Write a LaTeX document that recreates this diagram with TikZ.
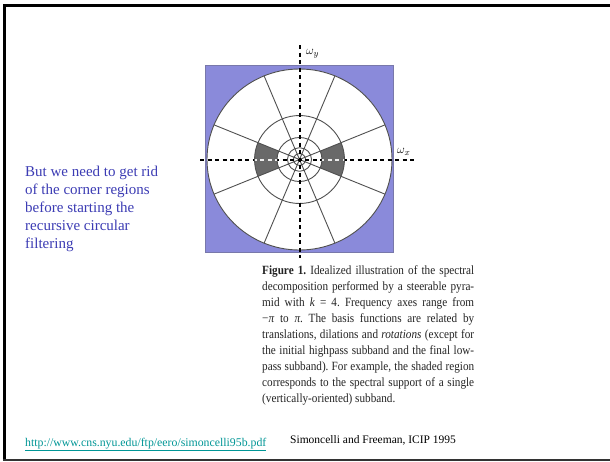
\documentclass[tikz,border=0pt]{standalone}
\usepackage{fontspec}
\setmainfont{Liberation Serif}
\usepackage{graphicx}
\definecolor{slideblue}{RGB}{60,60,180}
\definecolor{panelblue}{RGB}{138,138,218}
\definecolor{paneledge}{RGB}{120,120,170}
\definecolor{linkteal}{RGB}{0,150,150}
\definecolor{sectorgray}{RGB}{105,105,105}
\definecolor{ringgray}{RGB}{80,80,80}
\definecolor{captiontext}{RGB}{35,35,35}
% one justified caption line, slightly stretched vertically
\newcommand\capline[1]{\scalebox{1}[1.12]{\hbox to 212pt{#1}}}
\begin{document}
\frenchspacing
\begin{tikzpicture}[x=1pt,y=-1pt,
  frameline/.style={line width=3pt,black},
  ring/.style={draw=ringgray,line width=0.9pt},
  axis/.style={line width=2pt,dash pattern=on 4pt off 3.5pt},
  bluetext/.style={anchor=base west,inner sep=0pt,text=slideblue,font=\fontsize{15}{18}\selectfont},
  captionline/.style={anchor=base west,inner sep=0pt,text=captiontext,font=\fontsize{11.2}{13}\selectfont},
  axislabel/.style={inner sep=0pt,font=\fontsize{12.5}{14}\selectfont}]
\useasboundingbox (0,0) rectangle (610,461);
\fill[white] (0,0) rectangle (610,461);

% slide frame
\draw[frameline] (3,5.5) -- (610,5.5);
\draw[frameline] (4.5,4) -- (4.5,461);
\draw[line width=2pt,black!80] (3,460) -- (610,460);

% frequency plane
\fill[panelblue,draw=paneledge,line width=0.8pt] (205,65) rectangle (393,252);
\begin{scope}[shift={(299.5,159.5)},xscale=92.5,yscale=-90.5]
  \fill[white] (0,0) circle[radius=1];
  % shaded subband (vertically oriented)
  \fill[sectorgray] (-22.5:0.243) arc[start angle=-22.5,end angle=22.5,radius=0.243]
        -- (22.5:0.486) arc[start angle=22.5,end angle=-22.5,radius=0.486] -- cycle;
  \fill[sectorgray] (157.5:0.243) arc[start angle=157.5,end angle=202.5,radius=0.243]
        -- (202.5:0.486) arc[start angle=202.5,end angle=157.5,radius=0.486] -- cycle;
  % radial boundaries
  \foreach \a in {22.5,67.5,112.5,157.5}
    \draw[ring] (\a:1) -- (\a+180:1);
  % octave rings
  \foreach \r in {1,0.486,0.243,0.13,0.065}
    \draw[ring] (0,0) circle[radius=\r];
\end{scope}

% axes
\coordinate (wyTop) at (299.5,45);
\coordinate (wyBot) at (299.5,258);
\coordinate (wxLeft) at (200,159.5);
\coordinate (wxRight) at (414,159.5);
\draw[axis] (wyTop) -- (wyBot);
\draw[axis] (wxLeft) -- (wxRight);
% light dashes where the axis crosses the shaded subband
\begin{scope}[shift={(299.5,159.5)},xscale=92.5,yscale=-90.5]
  \clip (-22.5:0.243) arc[start angle=-22.5,end angle=22.5,radius=0.243]
      -- (22.5:0.486) arc[start angle=22.5,end angle=-22.5,radius=0.486] -- cycle
      (157.5:0.243) arc[start angle=157.5,end angle=202.5,radius=0.243]
      -- (202.5:0.486) arc[start angle=202.5,end angle=157.5,radius=0.486] -- cycle;
  \draw[axis,white!85!gray] (wxLeft) -- (wxRight);
\end{scope}
\node[axislabel,anchor=west] (wy) at (306,54) {$\omega_y$};
\node[axislabel,anchor=west] (wx) at (397,152) {$\omega_x$};

% slide note
\node[bluetext] (note1) at (25,176) {But we need to get rid};
\node[bluetext] (note2) at (25,194) {of the corner regions};
\node[bluetext] (note3) at (25,212) {before starting the};
\node[bluetext] (note4) at (25,230) {recursive circular};
\node[bluetext] (note5) at (25,248) {filtering};

% figure caption
\node[captionline] (cap1) at (262,274) {\capline{\textbf{Figure 1.} Idealized illustration of the spectral}};
\node[captionline] (cap2) at (262,290) {\capline{decomposition performed by a steerable pyra-}};
\node[captionline] (cap3) at (262,306) {\capline{mid with \textit{k} = 4. Frequency axes range from}};
\node[captionline] (cap4) at (262,322) {\capline{−\textit{π} to \textit{π}. The basis functions are related by}};
\node[captionline] (cap5) at (262,338) {\capline{translations, dilations and \textit{rotations} (except for}};
\node[captionline] (cap6) at (262,354) {\capline{the initial highpass subband and the final low-}};
\node[captionline] (cap7) at (262,370) {\capline{pass subband). For example, the shaded region}};
\node[captionline] (cap8) at (262,386) {\capline{corresponds to the spectral support of a single}};
\node[captionline] (cap9) at (262,402) {\scalebox{1}[1.12]{(vertically-oriented) subband.}};

% source and reference
\node[anchor=base west,inner sep=0pt,text=linkteal,font=\fontsize{11.8}{14}\selectfont] (link) at (25,446)
  {\underline{http://www.cns.nyu.edu/ftp/eero/simoncelli95b.pdf}};
\node[anchor=base west,inner sep=0pt,font=\fontsize{11.5}{14}\selectfont] (cite) at (290,443)
  {Simoncelli and Freeman, ICIP 1995};
\end{tikzpicture}
\end{document}
